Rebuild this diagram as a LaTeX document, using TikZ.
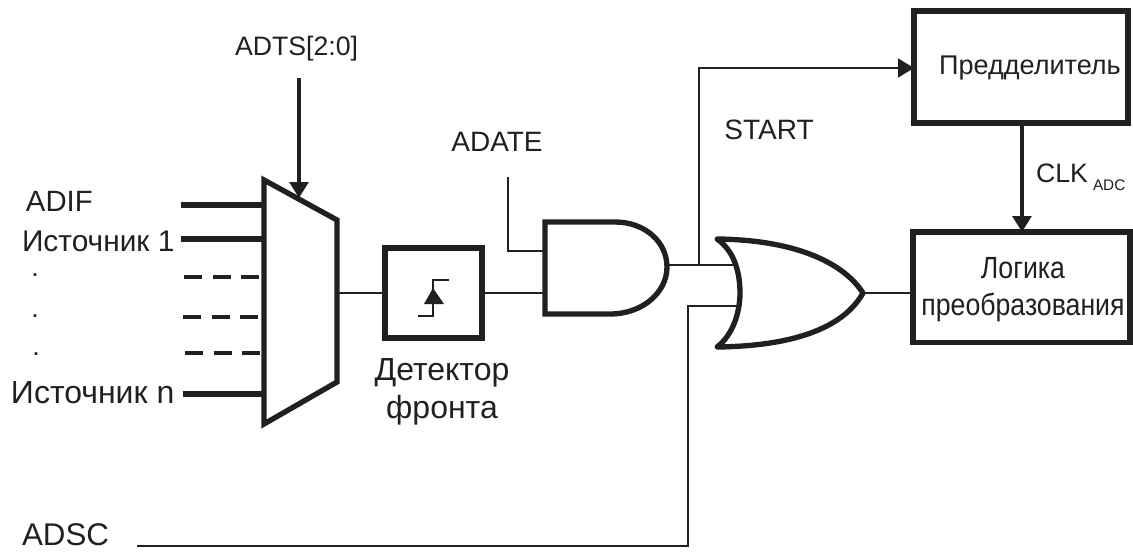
\documentclass[tikz,border=0pt]{standalone}
\usepackage{fontspec}
\setmainfont{Liberation Sans}
\usetikzlibrary{arrows.meta}
\definecolor{ink}{HTML}{231F20}
\tikzset{
 lbl/.style={font=\fontsize{#1}{#1}\selectfont,text=ink,inner sep=0pt,outer sep=0pt},
 thinwire/.style={draw=ink,line width=2.2pt},
 thickwire/.style={draw=ink,line width=3.8pt},
 dashwire/.style={draw=ink,line width=2.4pt,dash pattern=on 13.5pt off 8pt},
 block/.style={draw=ink,line width=4pt},
 hd/.style={-{Triangle[length=12pt,width=14pt]}},
 box/.style={draw=ink,line width=4pt,inner sep=0pt,outer sep=0pt},
 narrow/.style={xscale=0.87,transform shape},
}
\begin{document}
\begin{tikzpicture}[x=0.75pt,y=-0.75pt]
\useasboundingbox (0,0) rectangle (1133,553);
% boxes
\node[box,anchor=north west,minimum width=160.5pt,minimum height=84pt] (presc) at (914,11) {};
\node[box,anchor=north west,minimum width=162.75pt,minimum height=83pt] (logic) at (913,232) {};
\node[box,anchor=north west,minimum width=72.75pt,minimum height=67.5pt] (det) at (385,248) {};
% mux
\draw[block,line join=miter] (264,180) -- (337,220) -- (337,382) -- (264,424) -- cycle;
\coordinate (muxout) at (337,293);
\coordinate (adifin) at (264,205);
\coordinate (s1in) at (264,239);
\coordinate (d1in) at (260,277);
\coordinate (d2in) at (259,317);
\coordinate (d3in) at (260,353);
\coordinate (sNin) at (264,394);
\coordinate (adifst) at (181,205);
\coordinate (s1st) at (181,239);
\coordinate (d1st) at (184,277);
\coordinate (d2st) at (183,317);
\coordinate (d3st) at (185,353);
\coordinate (sNst) at (183,394);
\draw[thickwire] (adifst) -- (adifin);
\draw[thickwire] (s1st) -- (s1in);
\draw[thickwire] (sNst) -- (sNin);
\draw[dashwire] (d1st) -- (d1in);
\draw[dashwire] (d2st) -- (d2in);
\draw[dashwire] (d3st) -- (d3in);
\draw[thinwire] (muxout) -- (det.west |- muxout);
% edge symbol
\draw[draw=ink,line width=1.8pt] (418,316) -- (433,316) -- (433,280) -- (449,280);
\fill[ink] (433,288) -- (444,304) -- (424,304) -- cycle;
% AND
\draw[block,line join=miter] (615,222) -- (545,222) -- (545,314) -- (610,314)
  .. controls (643,314) and (667,292) .. (667,267)
  .. controls (667,242) and (645,222) .. (615,222);
\coordinate (andout) at (667,265);
\coordinate (andin1) at (545,251);
\coordinate (andin2) at (545,293);
\draw[thinwire] (det.east |- andin2) -- (andin2);
\coordinate (adatest) at (508,177);
\draw[thinwire] (adatest) |- (andin1);
% OR
\draw[block,line cap=round,line join=round] (717,239)
  .. controls (800,240) and (845,265) .. (863,293)
  .. controls (845,325) and (800,346) .. (717,347)
  .. controls (733,335) and (740,312) .. (740,293)
  .. controls (740,270) and (733,250) .. (717,239) -- cycle;
\coordinate (orin1) at (733,265);
\coordinate (orin2) at (738,306);
\coordinate (orout) at (863,293);
\draw[thinwire] (andout) -- (orin1);
\coordinate (branch) at (699,265);
\draw[thinwire,hd] (branch) |- (presc.west |- 0,68);
\coordinate (adscst) at (137,546);
\draw[thinwire] (adscst) -| (688,306) -- (orin2);
\draw[thinwire] (orout) -- (logic.west |- orout);
% arrows
\coordinate (adtsst) at (299,78);
\draw[thinwire,line width=2.8pt,hd] (adtsst) -- (299,198);
\draw[thinwire,line width=2.8pt,hd] (presc.south -| 1022,0) -- (logic.north -| 1022,0);
% labels
\node[lbl=20,anchor=west] (adts) at (235,49) {ADTS[2:0]};
\node[lbl=22,anchor=west] (adif) at (26,201) {ADIF};
\node[lbl=22.4,anchor=west] (s1) at (22,241) {Источник 1};
\node[lbl=20,anchor=center] (dot1) at (35,275) {.};
\node[lbl=20,anchor=center] (dot2) at (35,316) {.};
\node[lbl=20,anchor=center] (dot3) at (36,354) {.};
\node[lbl=24,anchor=west] (sn) at (11,393) {Источник n};
\node[lbl=23.5,anchor=west] (adsc) at (22,535) {ADSC};
\node[lbl=21,anchor=center] (adate) at (497,142) {ADATE};
\node[lbl=21,anchor=center] (start) at (769,130) {START};
\node[lbl=24,anchor=center] (d1) at (442,373) {Детектор};
\node[lbl=24,anchor=center] (d2) at (442,410) {фронта};
\node[lbl=20.3,anchor=center] (pr) at (1030,68) {Предделитель};
\node[lbl=23,narrow,anchor=center] (lg1) at (1023,268) {Логика};
\node[lbl=23,narrow,anchor=center] (lg2) at (1023,307) {преобразования};
\node[lbl=20,anchor=west] (clk) at (1036,173) {CLK};
\node[lbl=11.5,anchor=west] (adc) at (1093,185) {ADC};
\end{tikzpicture}
\end{document}
